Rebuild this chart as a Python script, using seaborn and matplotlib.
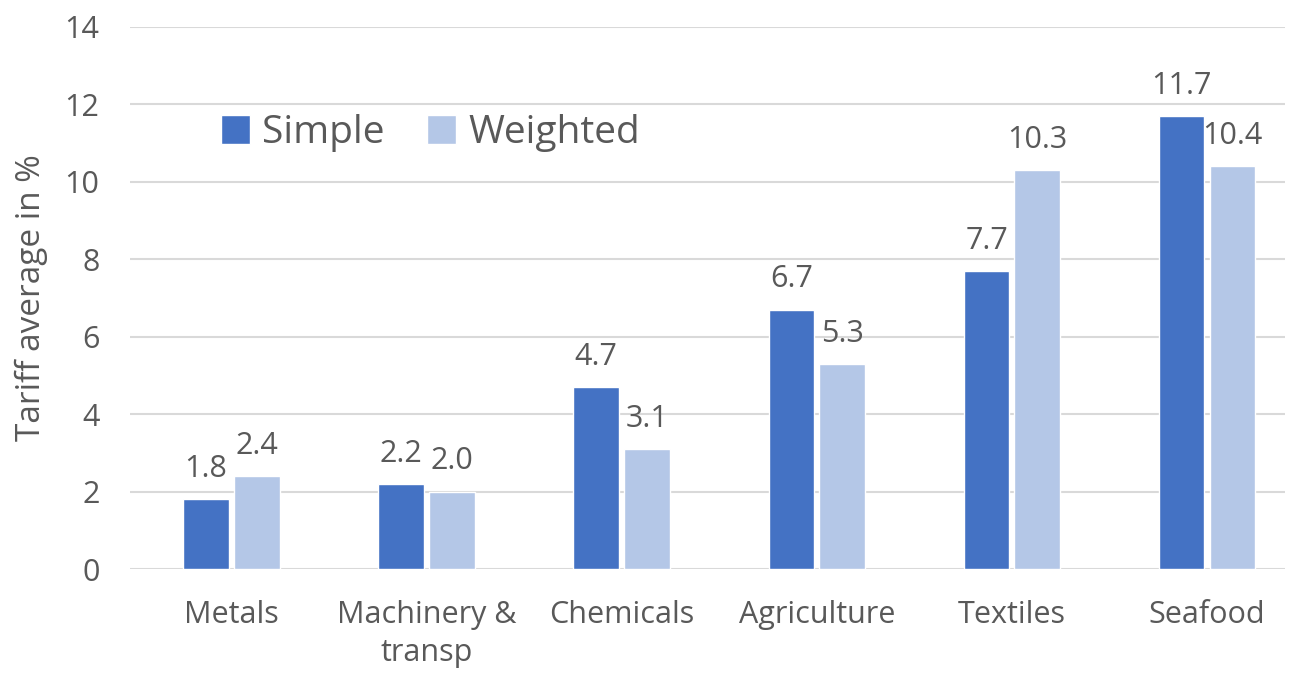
import pandas as pd
import matplotlib.pyplot as plt
import seaborn as sns

# ## Data
categories = ['Metals', 'Machinery &\ntransp', 'Chemicals', 'Agriculture', 'Textiles', 'Seafood']
simple = [1.8, 2.2, 4.7, 6.7, 7.7, 11.7]
weighted = [2.4, 2.0, 3.1, 5.3, 10.3, 10.4]
series_names = ['Simple', 'Weighted']
colors = {'Simple': '#4472C4', 'Weighted': '#B4C7E7'}

df = pd.DataFrame({
    'category': categories * 2,
    'series': [series_names[0]] * len(categories) + [series_names[1]] * len(categories),
    'value': simple + weighted,
})

# ## Plot
sns.set_theme(style='white')
plt.rcParams['font.family'] = ['Open Sans', 'DejaVu Sans']
text_color = '#595959'

fig = plt.figure(figsize=(12.92, 6.75), dpi=100)
ax = fig.add_axes([0.1006, 0.157, 0.894, 0.803])

sns.barplot(data=df, x='category', y='value', hue='series', palette=colors,
            order=categories, hue_order=series_names, width=0.52, gap=0.1,
            saturation=1, ax=ax)

for container in ax.containers:
    ax.bar_label(container, fmt='%.1f', padding=11, fontsize=22, color=text_color)

ax.set_ylim(0, 14)
ax.set_yticks(range(0, 15, 2))
ax.set_xlim(-0.52, 5.40)
ax.yaxis.grid(True, color='#D9D9D9', linewidth=1.5)
ax.set_axisbelow(True)
for side in ['top', 'right', 'left', 'bottom']:
    ax.spines[side].set_visible(False)

ax.tick_params(axis='both', length=0, labelsize=22, labelcolor=text_color)
ax.tick_params(axis='x', pad=22)
ax.tick_params(axis='y', pad=22)
for lbl in ax.get_xticklabels():
    lbl.set_linespacing(1.35)
ax.set_xlabel('')
ax.set_ylabel('Tariff average in %', fontsize=24, color=text_color, labelpad=12)

ax.legend(title=None, frameon=False, ncol=2, fontsize=28, loc='center left',
          bbox_to_anchor=(186 / 1292, 1 - 133 / 675), bbox_transform=fig.transFigure,
          handlelength=0.75, handleheight=0.75, handletextpad=0.3, columnspacing=1.1,
          labelcolor=text_color)

fig.savefig('out.png', dpi=100)
